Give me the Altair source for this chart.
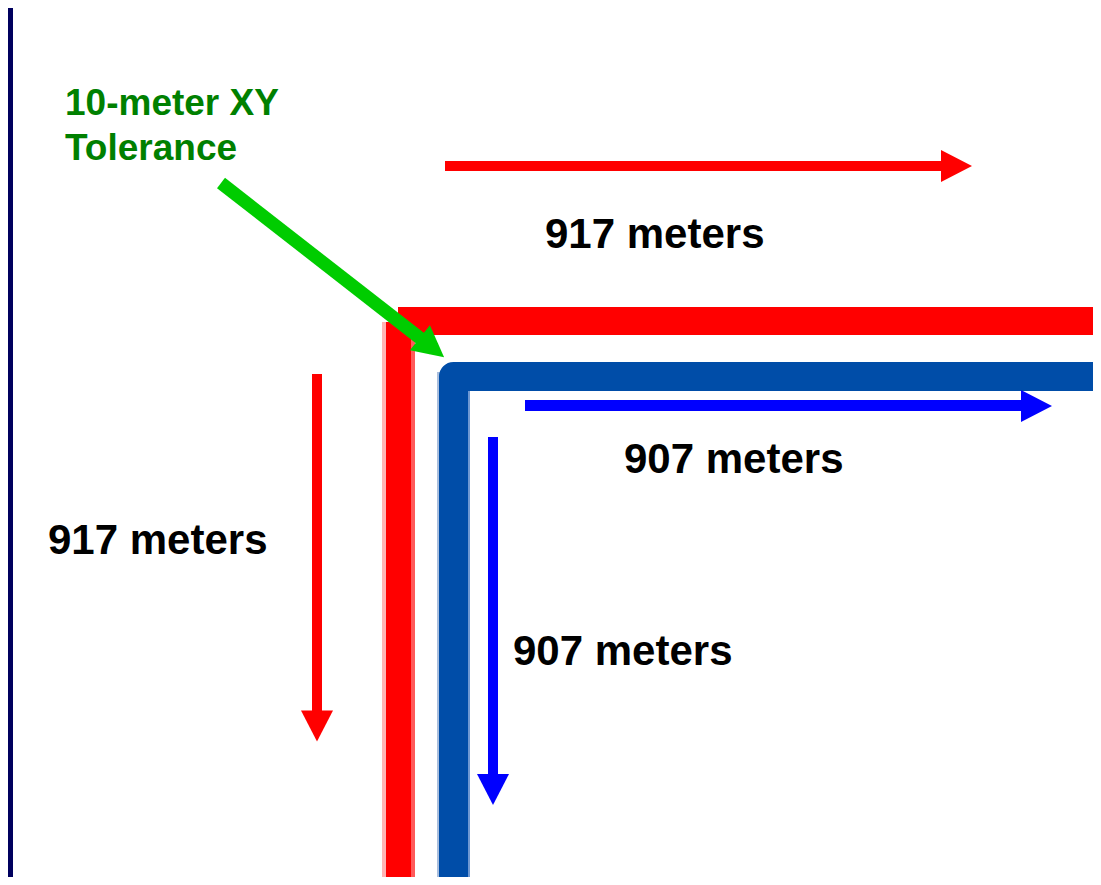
import altair as alt
import pandas as pd

# Slide coordinate frame (pixels of the original slide, y grows downward)
X_DOMAIN = [8, 1093]
Y_DOMAIN = [8, 877]

# Background: navy frame strip on the left and white sheet
panel_name = ["sheet", "frame"]
panel_x0 = [8, 8]
panel_x1 = [1101, 13]
panel_y0 = [8, 8]
panel_y1 = [885, 885]
panel_color = ["#ffffff", "#00005e"]

# Road bands with soft edges
band_name = ["red_v_edge_l", "red_v_edge_r", "red_v", "red_h",
             "blue_v_edge_l", "blue_v_edge_r"]
band_x0 = [382, 410, 386, 398, 437, 467]
band_x1 = [387, 415, 411, 1101, 440, 470]
band_y0 = [322, 322, 322, 307, 372, 372]
band_y1 = [885, 885, 885, 335, 885, 885]
band_color = ["#ffb4b4", "#ff5a5a", "#ff0000", "#ff0000", "#a9bedd", "#6e98d2"]

# Blue road centreline (rounded corner)
blue_x = [453.5, 453.5, 1101]
blue_y = [885, 376.5, 376.5]
blue_order = [0, 1, 2]

# Arrow shafts
shaft_name = ["red_top", "red_left", "blue_right", "blue_down", "green"]
shaft_x0 = [445, 317, 525, 493, 221]
shaft_x1 = [943, 317, 1023, 493, 434]
shaft_y0 = [166, 374, 405.5, 437, 183]
shaft_y1 = [166, 712, 405.5, 776, 349]
shaft_width = [10, 10, 11, 10, 13]
shaft_color = ["#ff0000", "#ff0000", "#0000ff", "#0000ff", "#00cc00"]

# Arrow heads
head_x = [956.5, 317, 1036.5, 493, 432]
head_y = [166, 726, 406, 789.5, 347.5]
head_angle = [0, 90, 0, 90, 38.8]
head_color = ["#ff0000", "#ff0000", "#0000ff", "#0000ff", "#00cc00"]

# Labels
label_text = ["917 meters", "917 meters", "907 meters", "907 meters",
              "10-meter XY", "Tolerance"]
label_x = [545, 48, 624, 513, 65, 65]
label_y = [248, 554, 473, 665, 115, 160]
label_size = [42, 42, 42, 42, 37, 37]
label_color = ["#000000", "#000000", "#000000", "#000000", "#008000", "#008000"]

xs = alt.Scale(domain=X_DOMAIN, nice=False, zero=False)
ys = alt.Scale(domain=Y_DOMAIN, nice=False, zero=False, reverse=True)

panels = pd.DataFrame(dict(name=panel_name, x0=panel_x0, x1=panel_x1,
                           y0=panel_y0, y1=panel_y1, color=panel_color))
bands = pd.DataFrame(dict(name=band_name, x0=band_x0, x1=band_x1,
                          y0=band_y0, y1=band_y1, color=band_color))
blue = pd.DataFrame(dict(x=blue_x, y=blue_y, o=blue_order))
shafts = pd.DataFrame(dict(name=shaft_name, x0=shaft_x0, x1=shaft_x1,
                           y0=shaft_y0, y1=shaft_y1, w=shaft_width, color=shaft_color))
heads = pd.DataFrame(dict(x=head_x, y=head_y, a=head_angle, color=head_color))
labels = pd.DataFrame(dict(t=label_text, x=label_x, y=label_y,
                           s=label_size, color=label_color))


def rect_layer(df):
    return alt.Chart(df).mark_rect(strokeWidth=0, clip=True).encode(
        x=alt.X("x0:Q", scale=xs, axis=None),
        x2="x1:Q",
        y=alt.Y("y0:Q", scale=ys, axis=None),
        y2="y1:Q",
        color=alt.Color("color:N", scale=None),
    )


bg = rect_layer(panels)
road_bands = rect_layer(bands)

blue_road = alt.Chart(blue).mark_line(
    color="#004da8", strokeWidth=29, strokeJoin="round", strokeCap="butt", clip=True
).encode(
    x=alt.X("x:Q", scale=xs, axis=None),
    y=alt.Y("y:Q", scale=ys, axis=None),
    order="o:Q",
)

shaft_layer = alt.Chart(shafts).mark_rule(strokeCap="butt").encode(
    x=alt.X("x0:Q", scale=xs, axis=None),
    x2="x1:Q",
    y=alt.Y("y0:Q", scale=ys, axis=None),
    y2="y1:Q",
    strokeWidth=alt.StrokeWidth("w:Q", scale=None),
    color=alt.Color("color:N", scale=None),
)

head_layer = alt.Chart(heads).mark_point(
    shape="M-0.97,-1L0.97,0L-0.97,1Z", filled=True, size=1024,
    opacity=1, strokeWidth=0
).encode(
    x=alt.X("x:Q", scale=xs, axis=None),
    y=alt.Y("y:Q", scale=ys, axis=None),
    angle=alt.Angle("a:Q", scale=None),
    color=alt.Color("color:N", scale=None),
)

label_layer = alt.Chart(labels).mark_text(
    align="left", baseline="alphabetic", font="Liberation Sans", fontWeight="bold"
).encode(
    x=alt.X("x:Q", scale=xs, axis=None),
    y=alt.Y("y:Q", scale=ys, axis=None),
    text="t:N",
    size=alt.Size("s:Q", scale=None),
    color=alt.Color("color:N", scale=None),
)

green_shaft = shaft_layer.transform_filter(alt.datum.name == "green")
other_shafts = shaft_layer.transform_filter(alt.datum.name != "green")

chart = alt.layer(
    bg, road_bands, blue_road, other_shafts, label_layer, green_shaft, head_layer
).properties(
    width=1085, height=869, padding=0, autosize="none", background="#ffffff"
).configure_view(strokeWidth=0)

chart.save("out.html", embed_options={"renderer": "svg", "actions": False})
